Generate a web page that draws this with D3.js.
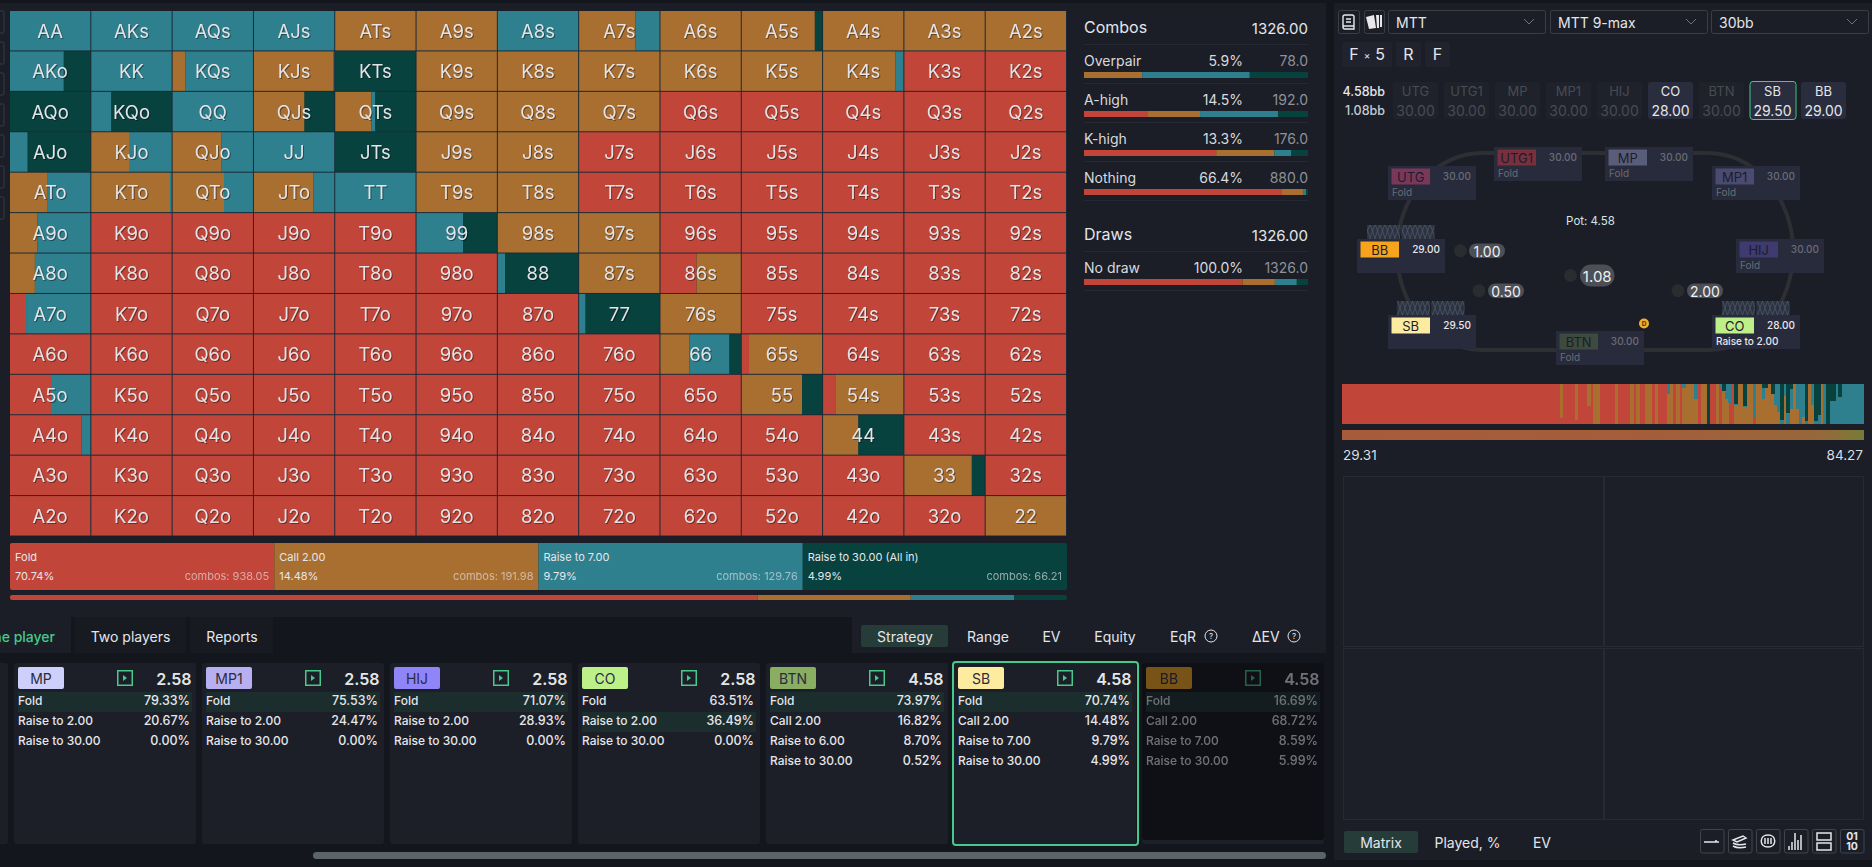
<!DOCTYPE html>
<html>
<head>
<meta charset="utf-8">
<title>Preflop strategy</title>
<script src="https://cdn.jsdelivr.net/npm/d3@7/dist/d3.min.js"></script>
<style>
  html, body { margin: 0; background: #13161c; overflow: hidden; }
  svg { display: block; }
  text { font-family: Inter, "Noto Sans", sans-serif; dominant-baseline: central; }
  .cell-label { filter: drop-shadow(1px 1px 0 rgba(0,0,0,.4)); }
</style>
</head>
<body>
<svg id="chart" width="1872" height="867"></svg>
<script>
// Data
const ranks = ['A', 'K', 'Q', 'J', 'T', '9', '8', '7', '6', '5', '4', '3', '2'];
const actions = ['fold', 'call', 'raise', 'allin'];

// strategy per hand, in percent, row by row of the matrix
const foldPct = [
  [0, 0, 0, 0, 0, 0, 0, 0, 0, 0, 0, 0, 0],
  [0, 0, 0, 0, 0, 0, 0, 0, 0, 0, 0, 100, 100],
  [0, 0, 0, 0, 0, 0, 0, 0, 100, 100, 100, 100, 100],
  [0, 0, 0, 0, 0, 0, 0, 100, 100, 100, 100, 100, 100],
  [0, 0, 0, 0, 0, 0, 0, 100, 100, 100, 100, 100, 100],
  [0, 100, 100, 100, 100, 0, 0, 0, 100, 100, 100, 100, 100],
  [0, 100, 100, 100, 100, 100, 0, 0, 45, 100, 100, 100, 100],
  [20, 100, 100, 100, 100, 100, 100, 0, 0, 100, 100, 100, 100],
  [100, 100, 100, 100, 100, 100, 100, 100, 0, 9, 100, 100, 100],
  [51, 100, 100, 100, 100, 100, 100, 100, 100, 0, 16, 100, 100],
  [89, 100, 100, 100, 100, 100, 100, 100, 100, 100, 0, 100, 100],
  [100, 100, 100, 100, 100, 100, 100, 100, 100, 100, 100, 0, 100],
  [100, 100, 100, 100, 100, 100, 100, 100, 100, 100, 100, 100, 0]
];
const callPct = [
  [0, 0, 0, 0, 100, 100, 0, 70, 100, 91, 100, 100, 100],
  [0, 0, 16, 99, 0, 100, 100, 100, 100, 100, 90, 0, 0],
  [0, 0, 0, 63, 45, 100, 100, 100, 0, 0, 0, 0, 0],
  [0, 48, 61, 0, 0, 100, 100, 0, 0, 0, 0, 0, 0],
  [47, 98, 64, 74, 0, 100, 100, 0, 0, 0, 0, 0, 0],
  [34, 0, 0, 0, 0, 0, 100, 100, 0, 0, 0, 0, 0],
  [31, 0, 0, 0, 0, 0, 0, 100, 55, 0, 0, 0, 0],
  [0, 0, 0, 0, 0, 0, 0, 0, 100, 0, 0, 0, 0],
  [0, 0, 0, 0, 0, 0, 0, 0, 36, 91, 0, 0, 0],
  [0, 0, 0, 0, 0, 0, 0, 0, 0, 75, 84, 0, 0],
  [0, 0, 0, 0, 0, 0, 0, 0, 0, 0, 44, 0, 0],
  [0, 0, 0, 0, 0, 0, 0, 0, 0, 0, 0, 84, 0],
  [0, 0, 0, 0, 0, 0, 0, 0, 0, 0, 0, 0, 100]
];
const raisePct = [
  [100, 100, 100, 100, 0, 0, 100, 30, 0, 0, 0, 0, 0],
  [67, 100, 84, 1, 0, 0, 0, 0, 0, 0, 10, 0, 0],
  [0, 25, 100, 0, 5, 0, 0, 0, 0, 0, 0, 0, 0],
  [22, 52, 39, 100, 0, 0, 0, 0, 0, 0, 0, 0, 0],
  [53, 2, 36, 26, 100, 0, 0, 0, 0, 0, 0, 0, 0],
  [66, 0, 0, 0, 0, 58, 0, 0, 0, 0, 0, 0, 0],
  [69, 0, 0, 0, 0, 0, 9, 0, 0, 0, 0, 0, 0],
  [80, 0, 0, 0, 0, 0, 0, 8, 0, 0, 0, 0, 0],
  [0, 0, 0, 0, 0, 0, 0, 0, 50, 0, 0, 0, 0],
  [49, 0, 0, 0, 0, 0, 0, 0, 0, 0, 0, 0, 0],
  [11, 0, 0, 0, 0, 0, 0, 0, 0, 0, 0, 0, 0],
  [0, 0, 0, 0, 0, 0, 0, 0, 0, 0, 0, 0, 0],
  [0, 0, 0, 0, 0, 0, 0, 0, 0, 0, 0, 0, 0]
];
const allinPct = [
  [0, 0, 0, 0, 0, 0, 0, 0, 0, 9, 0, 0, 0],
  [33, 0, 0, 0, 100, 0, 0, 0, 0, 0, 0, 0, 0],
  [100, 75, 0, 37, 50, 0, 0, 0, 0, 0, 0, 0, 0],
  [78, 0, 0, 0, 100, 0, 0, 0, 0, 0, 0, 0, 0],
  [0, 0, 0, 0, 0, 0, 0, 0, 0, 0, 0, 0, 0],
  [0, 0, 0, 0, 0, 42, 0, 0, 0, 0, 0, 0, 0],
  [0, 0, 0, 0, 0, 0, 91, 0, 0, 0, 0, 0, 0],
  [0, 0, 0, 0, 0, 0, 0, 92, 0, 0, 0, 0, 0],
  [0, 0, 0, 0, 0, 0, 0, 0, 14, 0, 0, 0, 0],
  [0, 0, 0, 0, 0, 0, 0, 0, 0, 25, 0, 0, 0],
  [0, 0, 0, 0, 0, 0, 0, 0, 0, 0, 56, 0, 0],
  [0, 0, 0, 0, 0, 0, 0, 0, 0, 0, 0, 16, 0],
  [0, 0, 0, 0, 0, 0, 0, 0, 0, 0, 0, 0, 0]
];

// legend strip
const legendNames = ['Fold', 'Call 2.00', 'Raise to 7.00', 'Raise to 30.00 (All in)'];
const legendPct = [70.74, 14.48, 9.79, 4.99];
const legendCombos = [938.05, 191.98, 129.76, 66.21];

// hand categories: [fold, call, raise, allin] share of each bar
const categoryNames = ['Overpair', 'A-high', 'K-high', 'Nothing'];
const categoryPct = ['5.9%', '14.5%', '13.3%', '66.4%'];
const categoryCombos = ['78.0', '192.0', '176.0', '880.0'];
const categoryShares = [
  [0, 26, 48, 26],
  [28.6, 23.2, 34.8, 13.4],
  [59, 26, 7.6, 7.4],
  [88.4, 9.4, 1.3, 0.9]
];

// players row
const seatNames = ['UTG', 'UTG1', 'MP', 'MP1', 'HIJ', 'CO', 'BTN', 'SB', 'BB'];
const seatStacks = ['30.00', '30.00', '30.00', '30.00', '30.00', '28.00', '30.00', '29.50', '29.00'];
const seatActive = ['CO', 'SB', 'BB'];

// strategy cards at the bottom
const cardNames = ['MP', 'MP1', 'HIJ', 'CO', 'BTN', 'SB', 'BB'];
const cardValues = ['2.58', '2.58', '2.58', '2.58', '4.58', '4.58', '4.58'];
const cardActions = [
  ['Fold', 'Raise to 2.00', 'Raise to 30.00'],
  ['Fold', 'Raise to 2.00', 'Raise to 30.00'],
  ['Fold', 'Raise to 2.00', 'Raise to 30.00'],
  ['Fold', 'Raise to 2.00', 'Raise to 30.00'],
  ['Fold', 'Call 2.00', 'Raise to 6.00', 'Raise to 30.00'],
  ['Fold', 'Call 2.00', 'Raise to 7.00', 'Raise to 30.00'],
  ['Fold', 'Call 2.00', 'Raise to 7.00', 'Raise to 30.00']
];
const cardPcts = [
  ['79.33%', '20.67%', '0.00%'],
  ['75.53%', '24.47%', '0.00%'],
  ['71.07%', '28.93%', '0.00%'],
  ['63.51%', '36.49%', '0.00%'],
  ['73.97%', '16.82%', '8.70%', '0.52%'],
  ['70.74%', '14.48%', '9.79%', '4.99%'],
  ['16.69%', '68.72%', '8.59%', '5.99%']
];
const cardTopAction = [0, 0, 0, 1, 0, 0, 0];

// hands sorted by EV, read column by column: [repeat, fold, call, raise, allin]
const sortedRuns = [
  [71, 100, 0, 0, 0], [1, 16, 84, 0, 0], [4, 100, 0, 0, 0], [1, 9, 91, 0, 0], [3, 100, 0, 0, 0],
  [1, 46, 54, 0, 0], [1, 100, 0, 0, 0], [2, 0, 100, 0, 0], [5, 100, 0, 0, 0], [1, 0, 100, 0, 0],
  [4, 100, 0, 0, 0], [1, 0, 100, 0, 0], [1, 100, 0, 0, 0], [1, 0, 100, 0, 0], [2, 100, 0, 0, 0],
  [2, 0, 100, 0, 0], [1, 100, 0, 0, 0], [1, 0, 100, 0, 0], [3, 100, 0, 0, 0], [1, 0, 75, 25, 0],
  [1, 0, 100, 0, 0], [1, 100, 0, 0, 0], [1, 0, 100, 0, 0], [1, 100, 0, 0, 0], [1, 0, 90, 10, 0],
  [3, 0, 100, 0, 0], [1, 0, 62, 38, 0], [1, 100, 0, 0, 0], [2, 0, 100, 0, 0], [1, 0, 0, 0, 100],
  [2, 100, 0, 0, 0], [1, 0, 100, 0, 0], [1, 90, 0, 10, 0], [1, 0, 82, 0, 18], [1, 0, 62, 38, 0],
  [1, 52, 0, 48, 0], [1, 100, 0, 0, 0], [1, 0, 47, 3, 50], [2, 0, 100, 0, 0], [1, 0, 43, 2, 55],
  [2, 0, 100, 0, 0], [1, 16, 0, 84, 0], [2, 0, 100, 0, 0], [1, 0, 63, 27, 10], [1, 0, 90, 0, 10],
  [1, 0, 100, 0, 0], [1, 0, 75, 0, 25], [1, 0, 48, 52, 0], [1, 0, 30, 70, 0], [1, 0, 0, 10, 90],
  [1, 0, 70, 30, 0], [1, 0, 0, 27, 73], [1, 0, 38, 50, 12], [1, 0, 100, 0, 0], [1, 0, 37, 63, 0],
  [1, 0, 0, 100, 0], [1, 0, 17, 83, 0], [1, 0, 0, 8, 92], [1, 0, 100, 0, 0], [1, 0, 48, 52, 0],
  [1, 0, 0, 8, 92], [1, 0, 0, 22, 78], [1, 0, 100, 0, 0], [1, 0, 0, 100, 0], [1, 0, 0, 0, 100],
  [2, 0, 0, 58, 42], [1, 0, 0, 100, 0], [1, 0, 0, 68, 32], [7, 0, 0, 100, 0]
];
const sortedEvEnds = ['29.31', '84.27'];

// Colors
const colorFold = '#c14538';
const colorCall = '#a96f30';
const colorRaise = '#2e808e';
const colorAllin = '#08423f';
const colorPanel = '#1b1e27';
const colorDark = '#13161c';
const colorGreen = '#46c98a';
const colorText = '#e4e6ea';
const colorDim = '#8f9198';
const actionColor = d3.scaleOrdinal().domain(actions).range([colorFold, colorCall, colorRaise, colorAllin]);
const cardTagColors = ['#cdd0fa', '#b8aff0', '#8f85f8', '#bef08a', '#89ad62', '#fdeba0', '#f7a41d'];
const seatTagColors = ['#79385a', '#7a2f3c', '#5a5d7a', '#4b4b72', '#3f3a70', '#bef08a', '#3d4b3e', '#fdeba0', '#f7a41d'];

const svg = d3.select('#chart');
const defs = svg.append('defs');

// Helpers
function box(parent, x, y, w, h, fill, r) {
  return parent.append('rect').attr('x', x).attr('y', y).attr('width', w).attr('height', h)
    .attr('fill', fill).attr('rx', r || 0);
}

function label(parent, x, y, str, size, fill, anchor, weight) {
  return parent.append('text').attr('x', x).attr('y', y).text(str)
    .attr('font-size', size).attr('fill', fill)
    .attr('text-anchor', anchor || 'start').attr('font-weight', weight || 400);
}

// stacked horizontal bar made of [fold, call, raise, allin] shares
function stackedBar(parent, x0, x1, y, h, shares) {
  const row = {};
  actions.forEach((a, i) => { row[a] = shares[i]; });
  const layers = d3.stack().keys(actions)([row]);
  const x = d3.scaleLinear().domain([0, d3.sum(shares)]).range([x0, x1]);
  parent.append('g').selectAll('rect').data(layers).join('rect')
    .attr('x', d => x(d[0][0]))
    .attr('y', y)
    .attr('width', d => x(d[0][1]) - x(d[0][0]))
    .attr('height', h)
    .attr('fill', d => actionColor(d.key));
}

function drawBackground() {
  box(svg, 0, 0, 1872, 867, colorDark);
  box(svg, 0, 3, 1326, 614, colorPanel);
  box(svg, 852, 617, 474, 36, colorPanel);
  box(svg, 1334, 3, 538, 857, colorPanel);
  // clipped toolbar on the left edge
  const notches = [11, 42, 73, 104, 135, 166, 197];
  svg.append('g').selectAll('path').data(notches).join('path')
    .attr('d', d => `M0 ${d}H3Q4 ${d} 4 ${d + 1}V${d + 21}Q4 ${d + 22} 3 ${d + 22}H0`)
    .attr('fill', 'none').attr('stroke', '#363a44');
}

function drawMatrix() {
  const g = svg.append('g');
  const x = d3.scaleBand().domain(d3.range(13)).range([10, 1067]);
  const y = d3.scaleBand().domain(d3.range(13)).range([11, 536.5]);
  const cw = x.bandwidth() - 1;
  const ch = y.bandwidth() - 1;

  box(g, 10, 11, 1057, 525, '#1b2a38');

  const cells = [];
  ranks.forEach((rowRank, r) => {
    ranks.forEach((colRank, c) => {
      const name = r === c ? rowRank + colRank : r < c ? rowRank + colRank + 's' : colRank + rowRank + 'o';
      cells.push({ r, c, name, fold: foldPct[r][c], call: callPct[r][c], raise: raisePct[r][c], allin: allinPct[r][c] });
    });
  });

  const layers = d3.stack().keys(actions)(cells);
  const share = d3.scaleLinear().domain([0, 100]).range([0, cw]);
  g.append('g').selectAll('g').data(layers).join('g')
    .attr('fill', d => actionColor(d.key))
    .selectAll('rect').data(d => d.filter(v => v[1] > v[0])).join('rect')
    .attr('x', d => x(d.data.c) + share(d[0]))
    .attr('y', d => y(d.data.r))
    .attr('width', d => share(d[1]) - share(d[0]))
    .attr('height', ch);

  g.append('g').attr('class', 'cell-label').selectAll('text').data(cells).join('text')
    .attr('x', d => x(d.c) + cw / 2)
    .attr('y', d => y(d.r) + ch / 2)
    .attr('text-anchor', 'middle')
    .attr('font-size', 18.5)
    .attr('fill', '#e4e4e8')
    .text(d => d.name);
}

function drawLegend() {
  const g = svg.append('g');
  defs.append('clipPath').attr('id', 'legend-clip').append('rect')
    .attr('x', 10).attr('y', 543).attr('width', 1057).attr('height', 47).attr('rx', 2);
  defs.append('clipPath').attr('id', 'thin-clip').append('rect')
    .attr('x', 10).attr('y', 595).attr('width', 1057).attr('height', 5).attr('rx', 2);

  const x = d3.scaleBand().domain(actions).range([10, 1067]);
  const tiles = g.append('g').attr('clip-path', 'url(#legend-clip)');
  actions.forEach((a, i) => {
    const x0 = x(a);
    box(tiles, x0, 543, x.bandwidth(), 47, actionColor(a));
    label(g, x0 + 5, 557, legendNames[i], 11, '#e6e6ea');
    label(g, x0 + 5, 575.5, legendPct[i].toFixed(2) + '%', 11, '#e6e6ea');
    label(g, x0 + x.bandwidth() - 5, 575.5, 'combos: ' + legendCombos[i].toFixed(2), 11, '#e6e6ea', 'end').attr('opacity', 0.62);
  });
  stackedBar(g.append('g').attr('clip-path', 'url(#thin-clip)'), 10, 1067, 595, 5, legendPct);
}

function drawCombos() {
  const g = svg.append('g');
  const left = 1084, right = 1308;
  const line = (y) => box(g, left, y, right - left, 1, '#262933');

  label(g, left, 27, 'Combos', 16, colorText);
  label(g, right, 28, '1326.00', 15, colorText, 'end');
  line(44);
  const rowY = d3.scaleBand().domain(categoryNames).range([44, 200]);
  categoryNames.forEach((name, i) => {
    const y = rowY(name);
    label(g, left, y + 16.5, name, 14, '#d8dade');
    label(g, 1243, y + 16.5, categoryPct[i], 14, '#d8dade', 'end');
    label(g, right, y + 16.5, categoryCombos[i], 14, colorDim, 'end');
    stackedBar(g, left, right, y + 28, 6, categoryShares[i]);
    line(y + 39);
  });

  label(g, left, 234, 'Draws', 16, colorText);
  label(g, right, 235, '1326.00', 15, colorText, 'end');
  line(251);
  label(g, left, 267.5, 'No draw', 14, '#d8dade');
  label(g, 1243, 267.5, '100.0%', 14, '#d8dade', 'end');
  label(g, right, 267.5, '1326.0', 14, colorDim, 'end');
  stackedBar(g, left, right, 279, 6, legendPct);
  line(290);
}

function playIcon(g, x, y) {
  g.append('rect').attr('x', x + 0.75).attr('y', y + 0.75).attr('width', 14.5).attr('height', 14.5)
    .attr('fill', 'none').attr('stroke', colorGreen).attr('stroke-width', 1.5);
  g.append('path').attr('d', `M${x + 6} ${y + 5}l4 3l-4 3z`).attr('fill', colorGreen);
}

function drawCards() {
  const g = svg.append('g');
  box(g, -174, 663, 182, 181, '#1c1f28', 3);
  const x = d3.scaleBand().domain(cardNames).range([14, 14 + 188 * cardNames.length]);

  cardNames.forEach((name, i) => {
    const x0 = x(name);
    const last = name === 'BB';
    box(g, x0, 663, 182, 181, '#1c1f28', 3);
    if (last) box(g, x0, 663, 182, 177, '#0e1015', 3);
    const card = g.append('g').attr('opacity', last ? 0.45 : 1);

    box(card, x0 + 4, 667, 46, 22, cardTagColors[i], 2);
    label(card, x0 + 27, 678.5, name, 14, '#2b2b3c', 'middle');
    playIcon(card, x0 + 103, 670);
    label(card, x0 + 177.5, 679, cardValues[i], 16, colorText, 'end', 600);

    box(card, x0 + 4, 692 + 20 * cardTopAction[i], 174, 20, '#1b2d2d');
    cardActions[i].forEach((act, k) => {
      const y = 700.5 + 20 * k;
      label(card, x0 + 4, y, act, 12, colorText, 'start', 500);
      label(card, x0 + 176, y, cardPcts[i][k], 12.5, colorText, 'end', 500);
    });

    if (name === 'SB') {
      g.append('rect').attr('x', x0 - 1).attr('y', 662).attr('width', 185).attr('height', 183).attr('rx', 3)
        .attr('fill', 'none').attr('stroke', colorGreen).attr('stroke-width', 2);
    }
  });

  box(g, 313, 852, 1013, 7, '#5c646b', 3.5);
}

function drawTabs() {
  const g = svg.append('g');
  box(g, 0, 617, 71, 36, colorPanel);
  box(g, 75, 617, 111, 36, '#171a21');
  box(g, 190, 617, 83, 36, '#171a21');
  label(g, 55, 636, 'One player', 14, colorGreen, 'end', 500);
  label(g, 130.5, 636, 'Two players', 14, colorText, 'middle');
  label(g, 232, 636, 'Reports', 14, colorText, 'middle');

  box(g, 861, 625, 87, 22, '#263c39', 2);
  const centers = [905, 988, 1051.5, 1115];
  ['Strategy', 'Range', 'EV', 'Equity'].forEach((t, i) => label(g, centers[i], 636, t, 14, colorText, 'middle'));
  label(g, 1170, 636, 'EqR', 14, colorText);
  helpIcon(g, 1211, 636);
  label(g, 1252, 636, 'ΔEV', 14, colorText);
  helpIcon(g, 1294, 636);
}

function helpIcon(g, cx, cy) {
  g.append('circle').attr('cx', cx).attr('cy', cy).attr('r', 6).attr('fill', 'none').attr('stroke', colorText);
  label(g, cx, cy, '?', 8, colorText, 'middle');
}

function drawHeader() {
  const g = svg.append('g');
  const outline = (x, y, w, h, r) => g.append('rect').attr('x', x + 0.5).attr('y', y + 0.5).attr('width', w).attr('height', h)
    .attr('rx', r || 2).attr('fill', 'none').attr('stroke', '#3b3e46');

  outline(1338, 10, 21, 23);
  g.append('path').attr('d', 'M1343 27V17Q1343 15 1345 15H1352Q1354 15 1354 17V29H1345Q1343 29 1343 27M1343 26H1354M1346 19H1351M1346 22H1351')
    .attr('fill', 'none').attr('stroke', '#e8e8ec').attr('stroke-width', 1.4);
  outline(1364, 10, 20, 23);
  g.append('path').attr('d', 'M1366 17L1374 15L1376 28L1369 29ZM1376 15L1379 15L1379 28L1377 28ZM1380 15L1382 15L1382 27L1380 27Z').attr('fill', '#e8e8ec');

  const menus = [[1388, 'MTT'], [1550, 'MTT 9-max'], [1711, '30bb']];
  menus.forEach(([x, t]) => {
    outline(x, 10, 157, 23);
    label(g, x + 8, 22, t, 14, colorText);
    g.append('path').attr('d', `M${x + 136} 19l5 5l5 -5`).attr('fill', 'none').attr('stroke', '#6f727a');
  });

  box(g, 1342, 42, 50, 25, '#20232d', 2);
  box(g, 1396, 42, 25, 25, '#20232d', 2);
  box(g, 1425, 42, 25, 25, '#20232d', 2);
  label(g, 1354, 54, 'F', 16, colorText, 'middle');
  label(g, 1367, 55, '×', 10, colorText, 'middle');
  label(g, 1380, 54, '5', 16, colorText, 'middle');
  label(g, 1408.5, 54, 'R', 16, colorText, 'middle');
  label(g, 1437.5, 54, 'F', 16, colorText, 'middle');

  label(g, 1385, 91, '4.58bb', 12.5, colorText, 'end', 500);
  label(g, 1385, 110, '1.08bb', 12.5, '#c9cbd0', 'end', 500);

  const x = d3.scaleBand().domain(seatNames).range([1393, 1393 + 51 * seatNames.length]);
  seatNames.forEach((name, i) => {
    const on = seatActive.includes(name);
    const x0 = x(name);
    box(g, x0, 82, 45, 37, on ? '#2a2d3d' : '#1f222b', 3);
    label(g, x0 + 22.5, 91, name, 13, on ? colorText : '#484b54', 'middle');
    label(g, x0 + 22.5, 110, seatStacks[i], 14, on ? colorText : '#484b54', 'middle');
    if (name === 'SB') {
      g.append('rect').attr('x', x0).attr('y', 81.5).attr('width', 46).attr('height', 38).attr('rx', 3)
        .attr('fill', 'none').attr('stroke', colorGreen);
    }
  });
}

function drawTable() {
  const g = svg.append('g');
  const hatch = defs.append('pattern').attr('id', 'card-back').attr('width', 5).attr('height', 14)
    .attr('patternUnits', 'userSpaceOnUse');
  hatch.append('rect').attr('width', 5).attr('height', 14).attr('fill', '#2b3240');
  hatch.append('path').attr('d', 'M0 0L5 14M5 0L0 14').attr('stroke', '#4d5666').attr('stroke-width', 0.8);

  g.append('rect').attr('x', 1397).attr('y', 153).attr('width', 396).attr('height', 197)
    .attr('rx', 85).attr('ry', 98).attr('fill', 'none').attr('stroke', '#2e2f33').attr('stroke-width', 4);

  const cardsAt = [[1367, 225], [1397, 301], [1722, 301]];
  cardsAt.forEach(([x, y]) => {
    box(g, x, y, 33, 14, 'url(#card-back)');
    box(g, x + 34.5, y, 33, 14, 'url(#card-back)');
  });

  const seatSpots = { UTG: [1388, 166], UTG1: [1494, 147], MP: [1605, 147], MP1: [1712, 166], HIJ: [1736, 239], CO: [1712, 315], BTN: [1556, 331], SB: [1388, 315], BB: [1357, 239] };
  const activeTextColor = '#e8e8ec';
  seatNames.forEach((name, i) => {
    const [x, y] = seatSpots[name];
    const on = seatActive.includes(name);
    box(g, x, y, 88, 34, '#282b3b');
    box(g, x + 3.5, y + 2.5, 38.5, 16, seatTagColors[i]);
    label(g, x + 22.7, y + 11, name, 13, '#1c1d2b', 'middle');
    label(g, x + 83, y + 10, seatStacks[i], 10, on ? activeTextColor : '#6a6c75', 'end', 500);
    if (name === 'CO') label(g, x + 4, y + 26, 'Raise to 2.00', 10, activeTextColor, 'start', 500);
    else if (!on) label(g, x + 4, y + 26, 'Fold', 10, '#6a6c75');
  });

  const chips = [
    { t: '1.00', cx: 1460.5, x: 1469, y: 243.5, w: 36, h: 14.5, size: 14 },
    { t: '0.50', cx: 1479, x: 1488, y: 283.5, w: 36, h: 14.5, size: 14 },
    { t: '2.00', cx: 1678, x: 1687, y: 283.5, w: 36, h: 14.5, size: 14 },
    { t: '1.08', cx: 1570.5, x: 1580, y: 264.5, w: 34.5, h: 22, size: 15 }
  ];
  chips.forEach(c => {
    g.append('circle').attr('cx', c.cx).attr('cy', c.y + c.h / 2).attr('r', 6.5).attr('fill', '#2a2c30');
    box(g, c.x, c.y, c.w, c.h, '#4c4f56', c.h / 2);
    label(g, c.x + c.w / 2, c.y + c.h / 2 + 0.5, c.t, c.size, '#f0f0f2', 'middle');
  });

  label(g, 1590.5, 221, 'Pot: 4.58', 11.5, '#d5e5e8', 'middle');
  g.append('circle').attr('cx', 1644).attr('cy', 323.5).attr('r', 5).attr('fill', '#eeb02e');
  label(g, 1644, 323.5, 'D', 6.5, '#4a3406', 'middle', 700);
}

function drawSorted() {
  const g = svg.append('g');
  const columns = d3.merge(sortedRuns.map(([n, fold, call, raise, allin]) =>
    d3.range(n).map(() => ({ fold, call, raise, allin }))));
  const x = d3.scaleBand().domain(d3.range(columns.length)).range([1342, 1863]);
  const y = d3.scaleLinear().domain([0, 100]).range([424, 384]);
  columns.forEach((d, i) => { d.i = i; });

  const layers = d3.stack().keys(actions)(columns);
  g.append('g').attr('shape-rendering', 'crispEdges').selectAll('g').data(layers).join('g')
    .attr('fill', d => actionColor(d.key))
    .selectAll('rect').data(d => d.filter(v => v[1] > v[0])).join('rect')
    .attr('x', d => x(d.data.i))
    .attr('y', d => y(d[1]))
    .attr('width', x.bandwidth() + 0.5)
    .attr('height', d => y(d[0]) - y(d[1]));

  const grad = defs.append('linearGradient').attr('id', 'ev-grad');
  [[0, '#a85b3a'], [0.6, '#a35e39'], [0.92, '#96683a'], [1, '#767c36']].forEach(([o, c]) =>
    grad.append('stop').attr('offset', o).attr('stop-color', c));
  box(g, 1342, 430, 522, 10, 'url(#ev-grad)');
  label(g, 1343, 454.5, sortedEvEnds[0], 13.5, '#d8dfe6');
  label(g, 1863, 454.5, sortedEvEnds[1], 13.5, '#d8dfe6', 'end');
}

function drawLowerPanels() {
  const g = svg.append('g');
  const frame = (x, y, w, h) => g.append('rect').attr('x', x + 0.5).attr('y', y + 0.5).attr('width', w).attr('height', h)
    .attr('fill', '#1c1f28').attr('stroke', '#272a33');
  frame(1343, 476, 260, 170);
  frame(1604, 476, 259, 170);
  frame(1343, 648, 260, 171);
  frame(1604, 648, 259, 171);

  box(g, 1344, 831, 74, 22, '#263c39', 2);
  label(g, 1381, 842, 'Matrix', 14, colorText, 'middle');
  label(g, 1467.5, 842, 'Played, %', 14, colorText, 'middle');
  label(g, 1542, 842, 'EV', 14, colorText, 'middle');

  const iconX = d3.scaleBand().domain(d3.range(6)).range([1700, 1868]);
  iconX.domain().forEach(i => {
    g.append('rect').attr('x', iconX(i) + 0.5).attr('y', 829.5).attr('width', 23.5).attr('height', 23.5)
      .attr('rx', 2).attr('fill', 'none').attr('stroke', '#41444c');
  });
  const icons = [
    'M1704 842H1719M1716 842V840',
    'M1733 840L1743 836L1746 838L1737 842ZM1733 843Q1738 846 1746 844M1733 846Q1738 849 1746 847',
    'M1768 835C1777 835 1777 847 1768 847C1759 847 1759 835 1768 835M1765 838V844M1768 838V844M1771 838V844',
    'M1789 850V846M1792 850V842M1795 850V833M1798 850V840M1801 850V835',
    'M1817 833H1831V840H1817ZM1817 843H1831V850H1817Z'
  ];
  g.selectAll('path.icon').data(icons).join('path').attr('class', 'icon').attr('d', d => d)
    .attr('fill', 'none').attr('stroke', '#e4e6ea').attr('stroke-width', 1.5);
  label(g, 1852, 836, '01', 10.5, colorText, 'middle', 700);
  label(g, 1852, 846, '10', 10.5, colorText, 'middle', 700);
}

drawBackground();
drawMatrix();
drawLegend();
drawCombos();
drawTabs();
drawCards();
drawHeader();
drawTable();
drawSorted();
drawLowerPanels();
</script>
</body>
</html>
